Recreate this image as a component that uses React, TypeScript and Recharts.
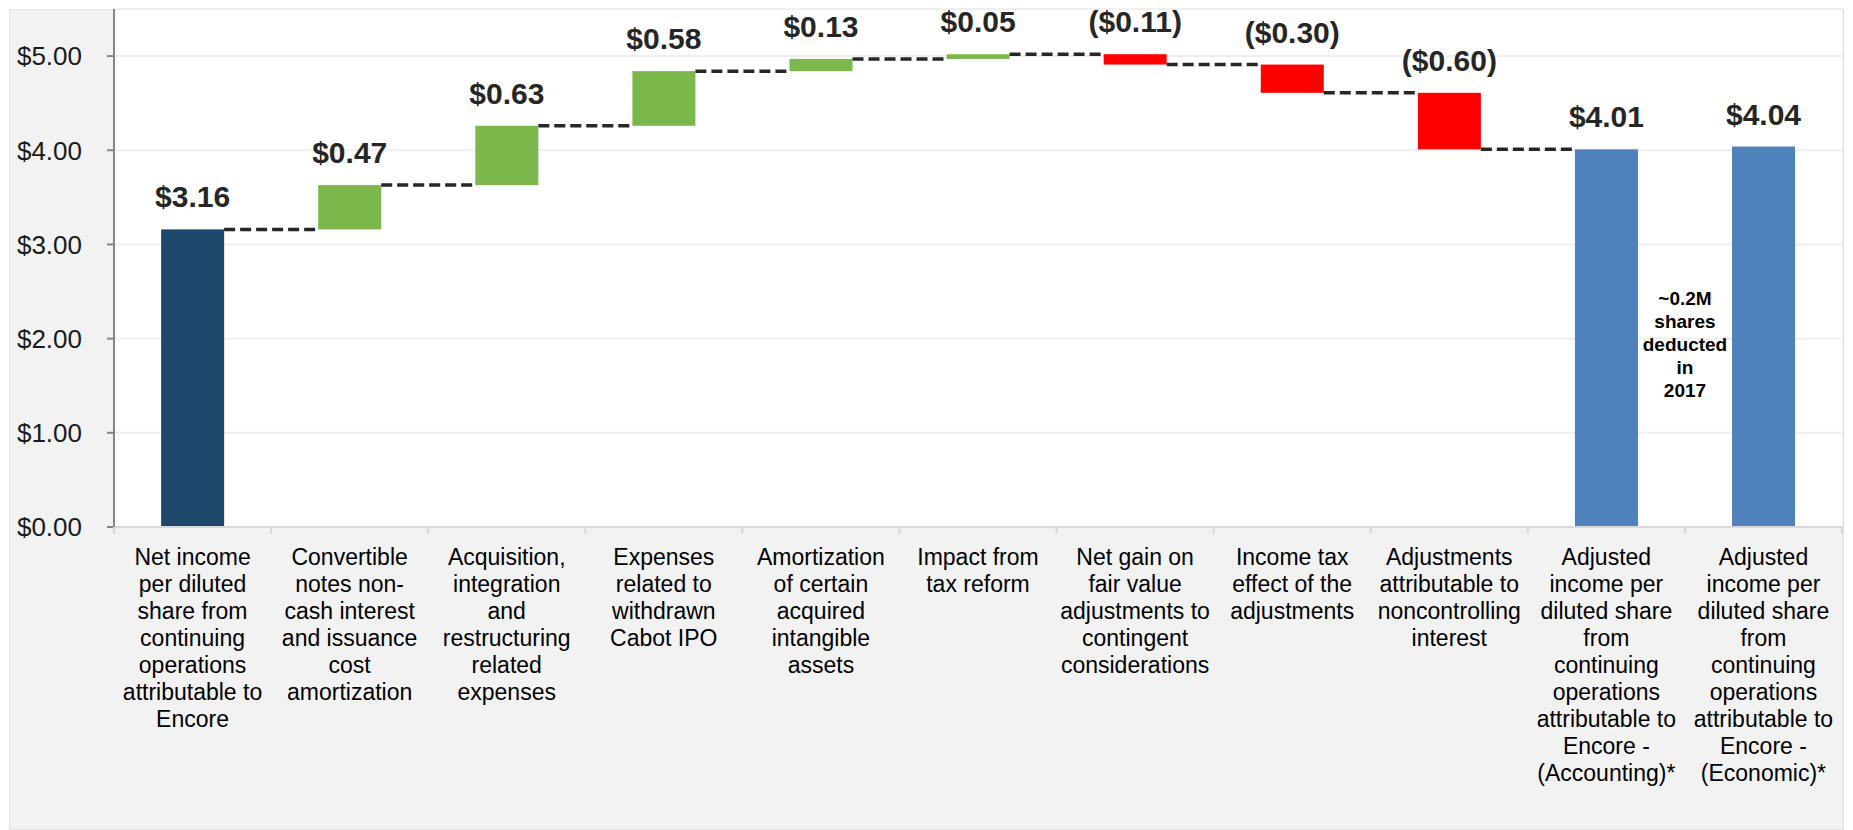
import { BarChart, Bar, XAxis, YAxis, CartesianGrid, LabelList } from 'recharts';

const categories = [
  'Net income\nper diluted\nshare from\ncontinuing\noperations\nattributable to\nEncore',
  'Convertible\nnotes non-\ncash interest\nand issuance\ncost\namortization',
  'Acquisition,\nintegration\nand\nrestructuring\nrelated\nexpenses',
  'Expenses\nrelated to\nwithdrawn\nCabot IPO',
  'Amortization\nof certain\nacquired\nintangible\nassets',
  'Impact from\ntax reform',
  'Net gain on\nfair value\nadjustments to\ncontingent\nconsiderations',
  'Income tax\neffect of the\nadjustments',
  'Adjustments\nattributable to\nnoncontrolling\ninterest',
  'Adjusted\nincome per\ndiluted share\nfrom\ncontinuing\noperations\nattributable to\nEncore -\n(Accounting)*',
  'Adjusted\nincome per\ndiluted share\nfrom\ncontinuing\noperations\nattributable to\nEncore -\n(Economic)*',
];

const amounts = [3.16, 0.47, 0.63, 0.58, 0.13, 0.05, -0.11, -0.3, -0.6, 4.01, 4.04];
const kinds = ['start', 'up', 'up', 'up', 'up', 'up', 'down', 'down', 'down', 'total', 'total'];

const yTicks = [0, 1, 2, 3, 4, 5];

const noteLines = ['~0.2M', 'shares', 'deducted', 'in', '2017'];
const NOTE_BAR = 9;
const NOTE_LEVEL = 1.94; // $ level of the note's middle line

const COLORS: Record<string, string> = {
  start: '#1f486d',
  up: '#7ab84c',
  down: '#ff0000',
  total: '#4f81bd',
};

const W = 1853;
const H = 830;
const Y_AXIS_W = 114;
const MARGIN = { top: 9, right: 11, bottom: 0, left: 0 };
const BAND = (W - Y_AXIS_W - MARGIN.right - MARGIN.left) / categories.length;

// running totals -> floating ranges
let run = 0;
const data = categories.map((name, i) => {
  const v = amounts[i];
  const kind = kinds[i];
  let low: number;
  let high: number;
  if (kind === 'start' || kind === 'total') {
    low = 0;
    high = v;
    run = v;
  } else {
    low = Math.min(run, run + v);
    high = Math.max(run, run + v);
    run += v;
  }
  const label = v < 0 ? `($${Math.abs(v).toFixed(2)})` : `$${v.toFixed(2)}`;
  const connect = i < categories.length - 1 && kinds[i + 1] !== 'total' ? true : kind !== 'total';
  return { name, kind, range: [low, high], label, connect };
});

function WaterfallBar(props: any) {
  const { x, y, width, height, index, payload } = props;
  const gap = BAND - width;
  const levelY = payload.kind === 'down' ? y + height : y;
  const bottom = y + height;
  const perUnit = height / payload.range[1];
  return (
    <g>
      <rect x={x} y={y} width={width} height={height} fill={COLORS[payload.kind]} />
      {payload.connect && (
        <line
          x1={x + width}
          x2={x + width + gap}
          y1={levelY}
          y2={levelY}
          stroke="#262626"
          strokeWidth={3.5}
          strokeDasharray="11 5"
        />
      )}
      {index === NOTE_BAR && (
        <text
          x={x + width + gap / 2}
          y={bottom - NOTE_LEVEL * perUnit}
          textAnchor="middle"
          fontSize={19}
          fontWeight={700}
          fill="#000"
        >
          {noteLines.map((l, i) => (
            <tspan key={i} x={x + width + gap / 2} dy={i === 0 ? -2 * 23 + 7 : 23}>
              {l}
            </tspan>
          ))}
        </text>
      )}
    </g>
  );
}

function CategoryTick(props: any) {
  const { x, y, payload, index } = props;
  const lines = String(payload.value).split('\n');
  const last = index === categories.length - 1;
  return (
    <g>
      <line x1={x - BAND / 2} x2={x - BAND / 2} y1={y} y2={y + 7} stroke="#d9d9d9" strokeWidth={2} />
      {last && <line x1={x + BAND / 2} x2={x + BAND / 2} y1={y} y2={y + 7} stroke="#d9d9d9" strokeWidth={2} />}
      <text x={x} y={y} textAnchor="middle" fontSize={23} fill="#000">
        {lines.map((l, i) => (
          <tspan key={i} x={x} dy={i === 0 ? 38 : 27}>
            {l}
          </tspan>
        ))}
      </text>
    </g>
  );
}

export default function App() {
  return (
    <div style={{ position: 'relative', width: W, height: H, fontFamily: '"Liberation Sans", Arial, sans-serif' }}>
      <style>{'body{margin:0}'}</style>
      <div
        style={{
          position: 'absolute',
          left: 9,
          top: 9,
          width: 1833,
          height: 819,
          background: '#f2f2f2',
          border: '1px solid #e2e2e2',
        }}
      />
      <div style={{ position: 'absolute', left: 0, top: 0 }}>
        <BarChart width={W} height={H} data={data} margin={MARGIN} barCategoryGap="30%">
          <CartesianGrid vertical={false} stroke="#efefef" strokeWidth={2} fill="#ffffff" />
          <XAxis
            dataKey="name"
            interval={0}
            height={H - 527}
            tick={<CategoryTick />}
            tickLine={false}
            tickSize={0}
            tickMargin={0}
            axisLine={{ stroke: '#d9d9d9', strokeWidth: 2 }}
          />
          <YAxis
            width={Y_AXIS_W}
            domain={[0, 5.5]}
            ticks={yTicks}
            tickFormatter={(v: number) => `$${v.toFixed(2)}`}
            tick={{ fontSize: 26, fill: '#1a1a1a' }}
            tickSize={7}
            tickMargin={25}
            tickLine={{ stroke: '#868686', strokeWidth: 2 }}
            axisLine={{ stroke: '#868686', strokeWidth: 2 }}
          />
          <Bar dataKey="range" shape={<WaterfallBar />} isAnimationActive={false}>
            <LabelList
              dataKey="label"
              position="top"
              offset={22}
              style={{ fontSize: 30, fontWeight: 700, fill: '#262626' }}
            />
          </Bar>
        </BarChart>
      </div>
    </div>
  );
}
